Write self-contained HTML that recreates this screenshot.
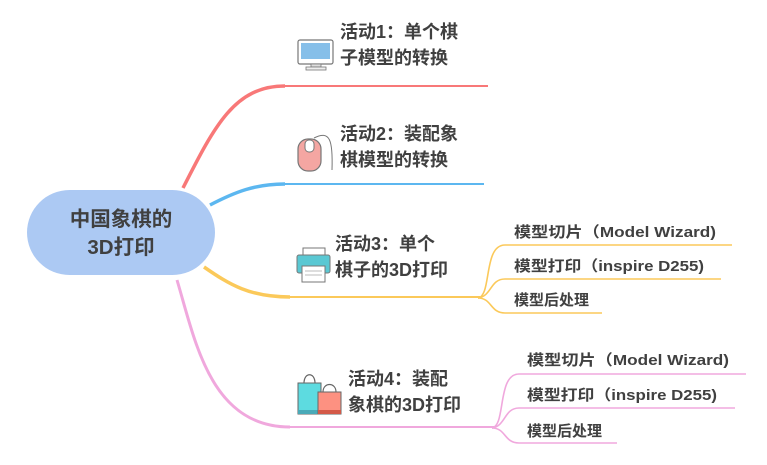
<!DOCTYPE html>
<html><head><meta charset="utf-8"><style>
html,body{margin:0;padding:0;background:#fff;}
svg{display:block;}
text{font-family:"Liberation Sans","Noto Sans CJK SC",sans-serif;font-weight:bold;fill:#404040;}
</style></head><body>
<svg width="767" height="465" viewBox="0 0 767 465" xmlns="http://www.w3.org/2000/svg">
<!-- branches -->
<path d="M183,188 C215,125 235,86 285,86" fill="none" stroke="#f87878" stroke-width="3.5"/>
<path d="M283,86 L488,86" fill="none" stroke="#f87878" stroke-width="2"/>
<path d="M210,205 C235,192 255,184 285,184" fill="none" stroke="#5cb7f0" stroke-width="3.5"/>
<path d="M283,184 L484,184" fill="none" stroke="#5cb7f0" stroke-width="2"/>
<path d="M204,267 C230,285 250,297 290,297" fill="none" stroke="#fbc95a" stroke-width="3.5"/>
<path d="M288,297 L480,297" fill="none" stroke="#fbc95a" stroke-width="2"/>
<path d="M177,280 C195,340 210,427 290,427" fill="none" stroke="#f0a8dd" stroke-width="3"/>
<path d="M288,427 L494,427" fill="none" stroke="#f0a8dd" stroke-width="2"/>
<!-- yellow sub -->
<g fill="none" stroke="#fbc95a" stroke-width="1.6">
<path d="M478,298 C492,296 483,245 505,245 L732,245"/>
<path d="M478,298 C492,296 490,279 505,279 L721,279"/>
<path d="M478,298 C492,298 490,313 505,313 L602,313"/>
</g>
<g fill="none" stroke="#f0a8dd" stroke-width="1.6">
<path d="M492,428 C506,426 497,374 519,374 L746,374"/>
<path d="M492,428 C506,426 504,408 519,408 L735,408"/>
<path d="M492,428 C506,428 504,443 519,443 L617,443"/>
</g>
<!-- root -->
<rect x="27" y="190" width="188" height="85" rx="42.5" fill="#acc9f3"/>
<text x="121" y="226" font-size="20.5" text-anchor="middle">中国象棋的</text>
<text x="121" y="254" font-size="20.5" text-anchor="middle">3D打印</text>
<!-- labels -->
<text x="340" y="38" font-size="18">活动1：单个棋</text>
<text x="340" y="64" font-size="18">子模型的转换</text>
<text x="340" y="140" font-size="18">活动2：装配象</text>
<text x="340" y="166" font-size="18">棋模型的转换</text>
<text x="335" y="250" font-size="18">活动3：单个</text>
<text x="335" y="276" font-size="18">棋子的3D打印</text>
<text x="348" y="385" font-size="18">活动4：装配</text>
<text x="348" y="411" font-size="18">象棋的3D打印</text>
<g font-size="15">
<text x="514" y="237" textLength="202" lengthAdjust="spacingAndGlyphs">模型切片（Model Wizard)</text>
<text x="514" y="271" textLength="190" lengthAdjust="spacingAndGlyphs">模型打印（inspire D255)</text>
<text x="514" y="305">模型后处理</text>
<text x="527" y="365" textLength="202" lengthAdjust="spacingAndGlyphs">模型切片（Model Wizard)</text>
<text x="527" y="400" textLength="190" lengthAdjust="spacingAndGlyphs">模型打印（inspire D255)</text>
<text x="527" y="436">模型后处理</text>
</g>
<!-- monitor -->
<rect x="298" y="40" width="35" height="24" rx="2" fill="#fff" stroke="#777" stroke-width="1.2"/>
<rect x="301" y="43" width="29" height="16" fill="#86bfe9"/>
<rect x="311" y="64" width="10" height="3" fill="#ddd" stroke="#777" stroke-width="0.8"/>
<rect x="306" y="67" width="20" height="3" fill="#eee" stroke="#777" stroke-width="0.8"/>
<!-- mouse -->
<path d="M314,138 C330,130 333,140 332,170" fill="none" stroke="#777" stroke-width="1"/>
<rect x="298" y="139" width="23" height="32" rx="10" fill="#f4a6a2" stroke="#777" stroke-width="1.2"/>
<rect x="305" y="140" width="9" height="12" rx="4" fill="#fff" stroke="#777" stroke-width="1"/>
<!-- printer -->
<rect x="303" y="248" width="22" height="8" fill="#fff" stroke="#777" stroke-width="1"/>
<rect x="297" y="255" width="33" height="18" rx="2" fill="#5ac8d3" stroke="#777" stroke-width="1"/>
<rect x="302" y="266" width="23" height="16" fill="#fff" stroke="#777" stroke-width="1"/>
<line x1="305" y1="271" x2="322" y2="271" stroke="#bbb"/>
<line x1="305" y1="275" x2="322" y2="275" stroke="#bbb"/>
<!-- bags -->
<path d="M304,383 C304,372 315,372 315,383" fill="none" stroke="#666" stroke-width="1.2"/>
<rect x="298" y="383" width="23" height="31" fill="#5ddbe0" stroke="#666" stroke-width="1"/>
<rect x="298" y="410" width="23" height="4" fill="#4aaab8"/>
<path d="M323,392 C323,382 336,382 336,392" fill="none" stroke="#666" stroke-width="1.2"/>
<rect x="318" y="392" width="23" height="22" fill="#fd9181" stroke="#666" stroke-width="1"/>
<rect x="318" y="410" width="23" height="4" fill="#d45a48"/>
</svg>
</body></html>
